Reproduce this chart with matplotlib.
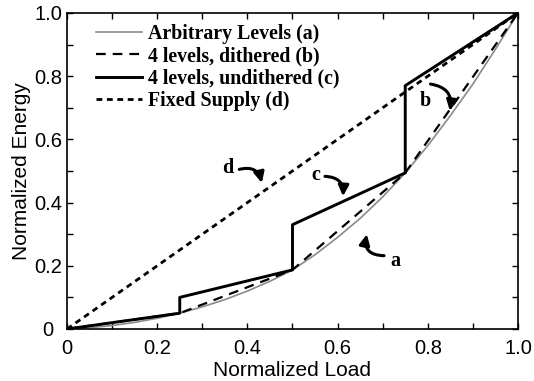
import matplotlib
matplotlib.use("Agg")
import matplotlib.pyplot as plt
from matplotlib.ticker import MultipleLocator

plt.rcParams['lines.scale_dashes'] = False

# arbitrary levels (a)
load_a = [0, 0.05, 0.1, 0.15, 0.2, 0.25, 0.3, 0.35, 0.4, 0.45, 0.5,
          0.55, 0.6, 0.65, 0.7, 0.75, 0.8, 0.85, 0.9, 0.95, 1.0]
energy_a = [0, 0.004, 0.011, 0.021, 0.034, 0.05, 0.07, 0.093, 0.12, 0.151, 0.187,
            0.235, 0.29, 0.35, 0.418, 0.494, 0.58, 0.675, 0.775, 0.885, 1.0]

# 4 levels, dithered (b)
load_b = [0, 0.25, 0.5, 0.75, 1.0]
energy_b = [0, 0.05, 0.187, 0.494, 1.0]

# 4 levels, undithered (c)
load_c = [0, 0.25, 0.25, 0.5, 0.5, 0.75, 0.75, 1.0]
energy_c = [0, 0.05, 0.10, 0.187, 0.33, 0.494, 0.77, 1.0]

# fixed supply (d)
load_d = [0, 1.0]
energy_d = [0, 1.0]

labels = ["Arbitrary Levels (a)", "4 levels, dithered (b)",
          "4 levels, undithered (c)", "Fixed Supply (d)"]
tick_labels = ["0", "0.2", "0.4", "0.6", "0.8", "1.0"]

# curve tags: letter, text position, arrow start, arrow end, bend
tags = [
    ("d", (0.357, 0.51), (0.382, 0.505), (0.432, 0.462), -0.5),
    ("c", (0.552, 0.487), (0.572, 0.483), (0.612, 0.420), -0.5),
    ("b", (0.794, 0.722), (0.806, 0.775), (0.849, 0.690), -0.5),
    ("a", (0.728, 0.215), (0.703, 0.232), (0.665, 0.300), -0.6),
]

serif = "Liberation Serif"
sans = "Liberation Sans"

fig = plt.figure(figsize=(5.34, 3.81), dpi=100)
ax = fig.add_axes([0.1255, 0.1365, 0.8445, 0.8295])

ax.plot(load_a, energy_a, color="#8a8a8a", lw=1.2, label=labels[0])
ax.plot(load_b, energy_b, color="black", lw=1.6, dashes=(7, 5), label=labels[1])
ax.plot(load_c, energy_c, color="black", lw=2.1, label=labels[2])
ax.plot(load_d, energy_d, color="black", lw=2.0, dashes=(4.2, 3.3), label=labels[3])

ax.set_xlim(0, 1)
ax.set_ylim(0, 1)
ax.xaxis.set_minor_locator(MultipleLocator(0.1))
ax.yaxis.set_minor_locator(MultipleLocator(0.1))
ax.set_xticks([0, 0.2, 0.4, 0.6, 0.8, 1.0])
ax.set_xticklabels(tick_labels, fontfamily=sans, fontsize=14.5)
ax.set_yticks([0, 0.2, 0.4, 0.6, 0.8, 1.0])
ax.set_yticklabels(tick_labels, fontfamily=sans, fontsize=14.5, ha="center")
ax.tick_params(which="both", direction="in", top=True, right=True, width=1)
ax.tick_params(which="minor", length=4)
ax.tick_params(axis="x", which="major", length=4, pad=7)
ax.tick_params(axis="y", which="major", length=4, pad=13.7)
for s in ax.spines.values():
    s.set_linewidth(1.2)

ax.set_xlabel("Normalized Load", fontfamily=sans, fontsize=15)
ax.set_ylabel("Normalized Energy", fontfamily=sans, fontsize=15)
ax.xaxis.set_label_coords(0.5, -0.1)
ax.yaxis.set_label_coords(-0.079, 0.5)

leg = ax.legend(loc="upper left", bbox_to_anchor=(0.064, 0.966), frameon=False,
                prop={"family": serif, "weight": "bold", "size": 14.3},
                handlelength=2.3, handletextpad=0.3, labelspacing=0.12,
                borderpad=0, borderaxespad=0)

for letter, txt, start, end, bend in tags:
    ax.text(txt[0], txt[1], letter, ha="center", va="center",
            family=serif, weight="bold", size=14.5)
    ax.annotate("", xy=end, xytext=start,
                arrowprops=dict(arrowstyle="-|>,head_length=0.45,head_width=0.22",
                                color="black", lw=2.2, shrinkA=0, shrinkB=0,
                                mutation_scale=14,
                                connectionstyle="arc3,rad=%s" % bend))

fig.savefig("out.png", dpi=100)
